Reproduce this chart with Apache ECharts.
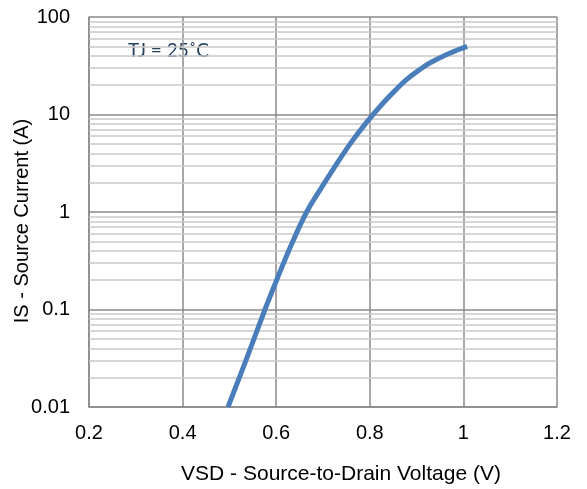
<!DOCTYPE html>
<html>
<head>
<meta charset="utf-8">
<script src="https://cdn.jsdelivr.net/npm/echarts@6/dist/echarts.min.js"></script>
<style>
    html, body { margin: 0; padding: 0; background: #fff; }
    #chart_con { width: 587px; height: 489px; }
</style>
</head>
<body>
<div id="chart_con"></div>
<script>
    // VSD (V) vs IS (A)
    let vsdData = [0.497, 0.537, 0.576, 0.600, 0.633, 0.665, 0.690, 0.722, 0.758, 0.793, 0.829, 0.858, 0.879, 0.905, 0.929, 0.968, 1.008]
    let isData = [0.01, 0.0316, 0.1, 0.195, 0.47, 1.0, 1.58, 2.75, 5.0, 8.3, 13.2, 18.4, 22.9, 28.5, 33.9, 42, 50]

    let xTicks = [0.2, 0.4, 0.6, 0.8, 1, 1.2]
    let yDecades = [0.01, 0.1, 1, 10, 100]
    let minorSteps = [2, 3, 4, 5, 6, 7, 8, 9]

    let points = []
    for (let i = 0; i < vsdData.length; i++) {
        points.push([vsdData[i], isData[i]])
    }

    // minor log gridlines (2..9 in each decade)
    let minorLines = []
    for (let d = 0; d < yDecades.length - 1; d++) {
        for (let k = 0; k < minorSteps.length; k++) {
            minorLines.push({ yAxis: Number((yDecades[d] * minorSteps[k]).toPrecision(3)) })
        }
    }

    let chart = echarts.init(document.getElementById('chart_con'))

    const option = {
        animation: false,
        textStyle: { fontFamily: 'Liberation Sans, Arial, sans-serif' },
        grid: {
            left: 89,
            right: 30,
            top: 17,
            bottom: 82,
            containLabel: false,
            outerBoundsMode: 'none'
        },
        graphic: [
            {
                type: 'text',
                left: 128,
                top: 41,
                style: {
                    text: 'TJ = 25˚C',
                    fill: '#243f60',
                    font: '19px Lato, sans-serif'
                }
            },
            {
                // y axis title, placed by hand (echarts centres it on the grid)
                type: 'text',
                x: 22,
                y: 221,
                rotation: Math.PI / 2,
                style: {
                    text: 'IS - Source Current (A)',
                    fill: '#000',
                    font: '20px "Liberation Sans", Arial, sans-serif',
                    align: 'center',
                    verticalAlign: 'middle'
                }
            }
        ],
        xAxis: {
            type: 'value',
            min: xTicks[0],
            max: xTicks[xTicks.length - 1],
            interval: 0.2,
            name: 'VSD - Source-to-Drain Voltage (V)',
            nameLocation: 'middle',
            nameGap: 57,
            nameTextStyle: { fontSize: 21, color: '#000', padding: [0, 0, 0, 36] },
            axisLine: { show: true, lineStyle: { color: '#8a8a8a', width: 1.5 } },
            axisTick: { show: false },
            axisLabel: { fontSize: 20, color: '#000', margin: 16 },
            splitLine: { show: true, lineStyle: { color: '#8a8a8a', width: 1.5 } }
        },
        yAxis: {
            type: 'log',
            logBase: 10,
            min: yDecades[0],
            max: yDecades[yDecades.length - 1],
            axisLine: { show: true, lineStyle: { color: '#8a8a8a', width: 1.5 } },
            axisTick: { show: false },
            axisLabel: {
                fontSize: 20,
                color: '#000',
                margin: 19,
                formatter: function (v) { return String(Number(v.toPrecision(3))) }
            },
            splitLine: { show: true, lineStyle: { color: '#8a8a8a', width: 1.5 } }
        },
        series: [
            {
                name: 'grid',
                type: 'line',
                data: [],
                silent: true,
                markLine: {
                    z: 1,
                    silent: true,
                    symbol: ['none', 'none'],
                    label: { show: false },
                    lineStyle: { color: '#c8c8c8', width: 1.5, type: 'solid' },
                    emphasis: { disabled: true },
                    data: minorLines
                }
            },
            {
                name: 'IS',
                type: 'line',
                z: 3,
                data: points,
                smooth: 0.4,
                showSymbol: false,
                lineStyle: { color: '#4a7ebb', width: 5 }
            }
        ]
    }

    chart.setOption(option)
</script>
</body>
</html>
